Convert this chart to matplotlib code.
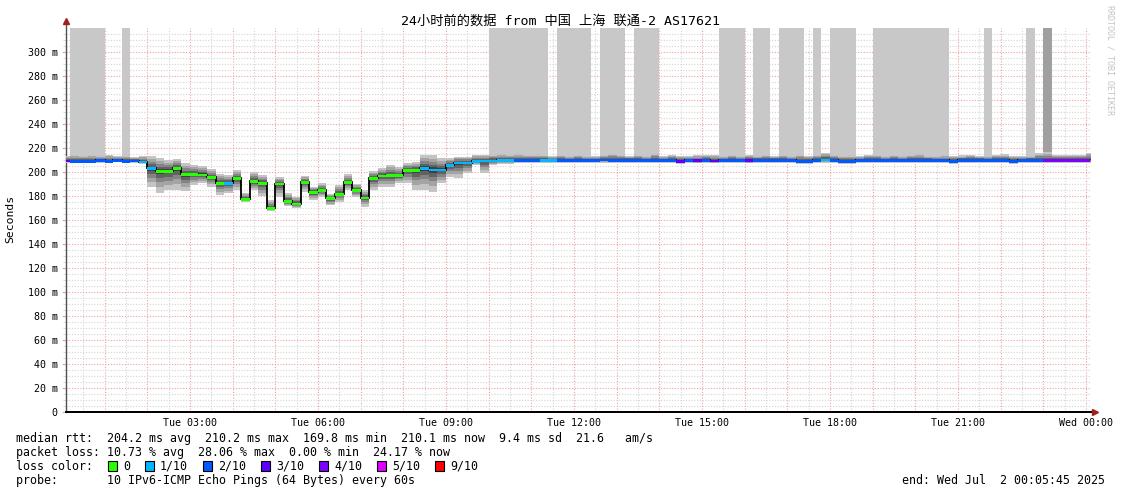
import numpy as np
import matplotlib
matplotlib.use("Agg")
import matplotlib.pyplot as plt
from matplotlib.ticker import MultipleLocator, FuncFormatter
from matplotlib.patches import Rectangle

MONO = ['DejaVu Sans Mono', 'Noto Sans CJK SC']
plt.rcParams['font.family'] = MONO

# ---- data (12 minute steps starting Tue 00:00, hours) ----
step_h = 0.2
start_h = 5.75 / 60          # Tue 00:05:45
end_h = 24 + 5.75 / 60       # Wed 00:05:45

median = [209.5, 209.0, 209.3, 209.0, 209.6, 209.3, 209.8, 209.2, 209.4, 208.6,
          203.0, 201.0, 201.0, 203.3, 198.0, 198.3, 197.8, 195.6, 190.6, 190.8,
          194.7, 177.5, 192.5, 190.8, 169.8, 190.3, 175.8, 173.6, 191.7, 183.0,
          184.7, 178.0, 181.7, 191.4, 185.0, 178.6, 194.7, 197.0, 197.5, 197.2,
          201.7, 201.4, 203.3, 202.0, 202.0, 205.8, 207.8, 207.8, 208.9, 209.4,
          209.4, 209.8, 209.6, 209.9, 210.0, 209.7, 210.1, 210.0, 209.9, 210.1,
          210.0, 209.8, 210.0, 210.2, 210.0, 209.9, 210.1, 210.0, 210.0, 209.8,
          210.1, 210.0, 209.3, 210.0, 209.6, 210.1, 209.5, 210.0, 209.9, 210.1,
          209.7, 210.0, 209.9, 210.1, 210.0, 209.9, 209.1, 209.2, 210.0, 210.2,
          209.9, 209.1, 209.3, 210.0, 210.1, 209.9, 210.0, 210.1, 209.8, 210.0,
          209.9, 210.1, 210.0, 209.8, 209.0, 210.0, 209.9, 210.1, 210.0, 209.8,
          210.0, 209.0, 209.9, 210.1, 210.0, 209.8, 210.1, 210.0, 210.1, 210.0,
          210.1]

smoke_hi = [213.0, 214.2, 214.0, 214.5, 213.8, 214.2, 213.0, 214.0, 212.5, 213.5,
            213.6, 211.4, 210.0, 210.8, 207.8, 205.8, 205.0, 202.5, 198.3, 197.5,
            201.7, 182.8, 199.7, 197.5, 176.7, 195.6, 182.8, 179.4, 196.7, 187.8,
            191.1, 181.7, 189.2, 198.3, 190.0, 185.0, 201.1, 203.1, 205.8, 203.9,
            207.2, 208.6, 214.2, 214.2, 211.4, 211.4, 212.8, 212.8, 214.2, 214.2,
            215.0, 215.5, 214.8, 215.5, 214.5, 215.0, 214.0, 213.5, 214.0, 213.0,
            214.2, 213.5, 213.0, 214.5, 215.5, 214.0, 213.5, 214.0, 213.5, 216.0,
            213.0, 214.5, 213.0, 213.5, 214.2, 214.2, 214.0, 213.5, 214.0, 213.0,
            214.5, 213.8, 214.0, 213.5, 214.5, 213.5, 214.8, 213.5, 214.0, 216.0,
            214.5, 213.5, 214.0, 213.5, 214.2, 214.0, 213.5, 214.5, 213.8, 214.2,
            215.5, 213.5, 213.0, 214.0, 213.5, 213.8, 214.0, 213.5, 213.0, 214.5,
            214.8, 213.5, 213.0, 213.5, 215.5, 216.5, 214.5, 214.0, 214.2, 214.0,
            216.0]

smoke_lo = [207.5, 207.8, 207.5, 207.8, 207.5, 207.8, 208.0, 207.7, 207.8, 207.0,
            187.8, 182.8, 185.0, 185.0, 184.4, 189.2, 190.6, 187.8, 180.8, 182.2,
            185.0, 175.3, 185.0, 180.0, 167.5, 179.4, 171.7, 169.7, 183.6, 176.7,
            179.4, 172.2, 175.3, 185.0, 178.9, 171.1, 185.0, 187.8, 187.8, 190.6,
            190.6, 185.0, 185.0, 183.6, 190.6, 196.1, 194.7, 198.9, 205.8, 198.9,
            205.8, 206.5, 207.0, 207.5, 207.2, 207.5, 207.8, 207.5, 207.6, 207.8,
            207.5, 207.7, 207.5, 207.8, 207.5, 207.6, 207.8, 207.5, 207.7, 207.5,
            207.8, 207.5, 207.0, 207.6, 207.2, 207.8, 207.3, 207.6, 207.7, 207.8,
            207.2, 207.6, 207.7, 207.8, 207.5, 207.6, 206.8, 207.0, 207.7, 207.8,
            207.6, 206.8, 207.0, 207.7, 207.8, 207.6, 207.7, 207.8, 207.5, 207.7,
            207.6, 207.8, 207.7, 207.5, 206.8, 207.7, 207.6, 207.8, 207.7, 207.5,
            207.7, 206.8, 207.6, 207.8, 207.7, 207.3, 207.5, 207.6, 207.5, 207.6,
            207.5]

# loss class per step (index into loss_colors)
loss = [3, 2, 2, 2, 2, 2, 2, 2, 2, 1,
        1, 0, 0, 0, 0, 0, 0, 0, 0, 1,
        0, 0, 0, 0, 0, 0, 0, 0, 0, 0,
        0, 0, 0, 0, 0, 0, 0, 0, 0, 0,
        0, 0, 1, 1, 1, 1, 1, 1, 1, 1,
        1, 1, 1, 2, 2, 2, 1, 1, 2, 2,
        2, 2, 2, 2, 2, 2, 2, 2, 2, 2,
        2, 2, 3, 2, 3, 2, 3, 2, 2, 2,
        3, 2, 2, 2, 2, 2, 2, 2, 2, 1,
        2, 2, 2, 2, 2, 2, 2, 2, 2, 2,
        2, 2, 2, 2, 2, 2, 2, 2, 2, 2,
        2, 2, 2, 2, 2, 4, 4, 4, 4, 4,
        4]

# steps with pings above the top of the scale
over_scale = [1, 2, 3, 4, 7, 50, 51, 52, 53, 54, 55, 56, 58, 59, 60, 61,
              63, 64, 65, 67, 68, 69, 77, 78, 79, 81, 82, 84, 85, 86, 88,
              90, 91, 92, 95, 96, 97, 98, 99, 100, 101, 102, 103, 108, 113]
over_scale_many = [115]

loss_labels = ["0", "1/10", "2/10", "3/10", "4/10", "5/10", "9/10"]
loss_colors = ["#26ff00", "#00b8ff", "#0059ff", "#5e00ff", "#7e00ff", "#dd00ff", "#ff0000"]

tick_hours = [3, 6, 9, 12, 15, 18, 21, 24]
tick_labels = ["Tue 03:00", "Tue 06:00", "Tue 09:00", "Tue 12:00",
               "Tue 15:00", "Tue 18:00", "Tue 21:00", "Wed 00:00"]

title = "24小时前的数据 from 中国 上海 联通-2 AS17621"
rtt_line = "median rtt:  204.2 ms avg  210.2 ms max  169.8 ms min  210.1 ms now  9.4 ms sd  21.6   am/s"
loss_line = "packet loss: 10.73 % avg  28.06 % max  0.00 % min  24.17 % now"
probe_line = "probe:       10 IPv6-ICMP Echo Pings (64 Bytes) every 60s"
end_line = "end: Wed Jul  2 00:05:45 2025"

# ---- figure ----
W, H = 1121, 494
fig = plt.figure(figsize=(W / 100, H / 100), dpi=100)
ax = fig.add_axes([66 / W, (H - 412) / H, 1024 / W, 384 / H])

median = np.array(median)
hi = np.array(smoke_hi)
lo = np.array(smoke_lo)
n = len(median)
edges = np.arange(n + 1) * step_h
xs = np.repeat(edges, 2)[1:-1]

def rep(v):
    return np.repeat(v, 2)

# off-scale pings: tall bars up to the top
top = 330.0
spike = np.zeros(n, bool)
spike[over_scale] = True
spike2 = np.zeros(n, bool)
spike2[over_scale_many] = True
ax.fill_between(xs, rep(hi), rep(np.where(spike, top, hi)), color='#c8c8c8', lw=0, zorder=2)
ax.fill_between(xs, rep(hi), rep(np.where(spike2, top, hi)), color='#a0a0a0', lw=0, zorder=2)

# smoke
layers = [(1.0, '#c4c4c4'), (0.75, '#a4a4a4'), (0.52, '#848484'), (0.32, '#626262'), (0.14, '#404040')]
for f, c in layers:
    ax.fill_between(xs, rep(median - f * (median - lo)), rep(median + f * (hi - median)),
                    color=c, lw=0, zorder=3)

# median line and loss colour
ax.stairs(median, edges, baseline=None, color='black', lw=1.3, zorder=4)
ax.bar(edges[:-1], 2.3, bottom=median - 1.5, width=step_h, align='edge',
       color=[loss_colors[k] for k in loss], lw=0, zorder=5)

ax.set_xlim(start_h, end_h)
ax.set_ylim(0, 319.9)

ax.xaxis.set_major_locator(MultipleLocator(1))
ax.xaxis.set_minor_locator(MultipleLocator(0.5))
lab = dict(zip(tick_hours, tick_labels))
ax.xaxis.set_major_formatter(FuncFormatter(
    lambda v, p: lab.get(int(round(v)), "") if abs(v - round(v)) < 1e-6 else ""))
ax.yaxis.set_major_locator(MultipleLocator(20))
ax.yaxis.set_minor_locator(MultipleLocator(5))
ax.yaxis.set_major_formatter(FuncFormatter(lambda v, p: "0" if v == 0 else "%d m" % v))

ax.set_axisbelow(True)
ax.grid(which='major', color='#f0a0a0', linestyle=(0, (1, 1.5)), lw=0.8)
ax.grid(which='minor', color='#d4d4d4', linestyle=(0, (1, 1.5)), lw=0.8)
ax.tick_params(which='both', labelsize=7.2, colors='#f0a0a0', labelcolor='black')
ax.tick_params(axis='x', which='major', length=0, pad=4)
ax.tick_params(axis='x', which='minor', length=0)
ax.tick_params(axis='y', which='major', length=3, pad=3)
ax.tick_params(axis='y', which='minor', length=2, color='#d4d4d4')

for s in ['top', 'right']:
    ax.spines[s].set_visible(False)
ax.spines['left'].set_color('#505050')
ax.spines['left'].set_linewidth(1.0)
ax.spines['left'].set_bounds(0, 319.9 + 5 / 1.2)
ax.spines['bottom'].set_color('black')
ax.spines['bottom'].set_linewidth(1.4)
ax.plot([0], [1 + 7 / 384], marker='^', color='#a02020', ms=4, transform=ax.transAxes,
        clip_on=False, zorder=6)
ax.plot([0, 1 + 4 / 1024], [0, 0], color='black', lw=1.4, transform=ax.transAxes,
        clip_on=False, zorder=6)
ax.plot([1 + 5 / 1024], [0], marker='>', color='#a02020', ms=4, transform=ax.transAxes,
        clip_on=False, zorder=6)

# ---- texts ----
def fy(y):
    return (H - y) / H

fig.text(0.5, fy(21), title, ha='center', va='center', fontsize=9.5, family=MONO)
fig.text(10 / W, fy(219), "Seconds", rotation=90, ha='center', va='center', fontsize=8.2)
fig.text(1110 / W, fy(60), "RRDTOOL / TOBI OETIKER", rotation=270, ha='center', va='center',
         fontsize=6, color='#c4c4c4')

fs = 8.4
fig.text(16 / W, fy(438), rtt_line, ha='left', va='center', fontsize=fs)
fig.text(16 / W, fy(452), loss_line, ha='left', va='center', fontsize=fs)
fig.text(16 / W, fy(480), probe_line, ha='left', va='center', fontsize=fs)

fig.text(16 / W, fy(466), "loss color:", ha='left', va='center', fontsize=fs)
label_x = [123, 160, 218, 276, 334, 392, 450]
for lx, s, c in zip(label_x, loss_labels, loss_colors):
    fig.add_artist(Rectangle(((lx - 15) / W, fy(471)), 9 / W, 10 / H, transform=fig.transFigure,
                             facecolor=c, edgecolor='black', lw=0.8))
    fig.text(lx / W, fy(466), s, ha='left', va='center', fontsize=fs)

fig.text(1105 / W, fy(480), end_line, ha='right', va='center', fontsize=fs)

fig.savefig("out.png", dpi=100)
